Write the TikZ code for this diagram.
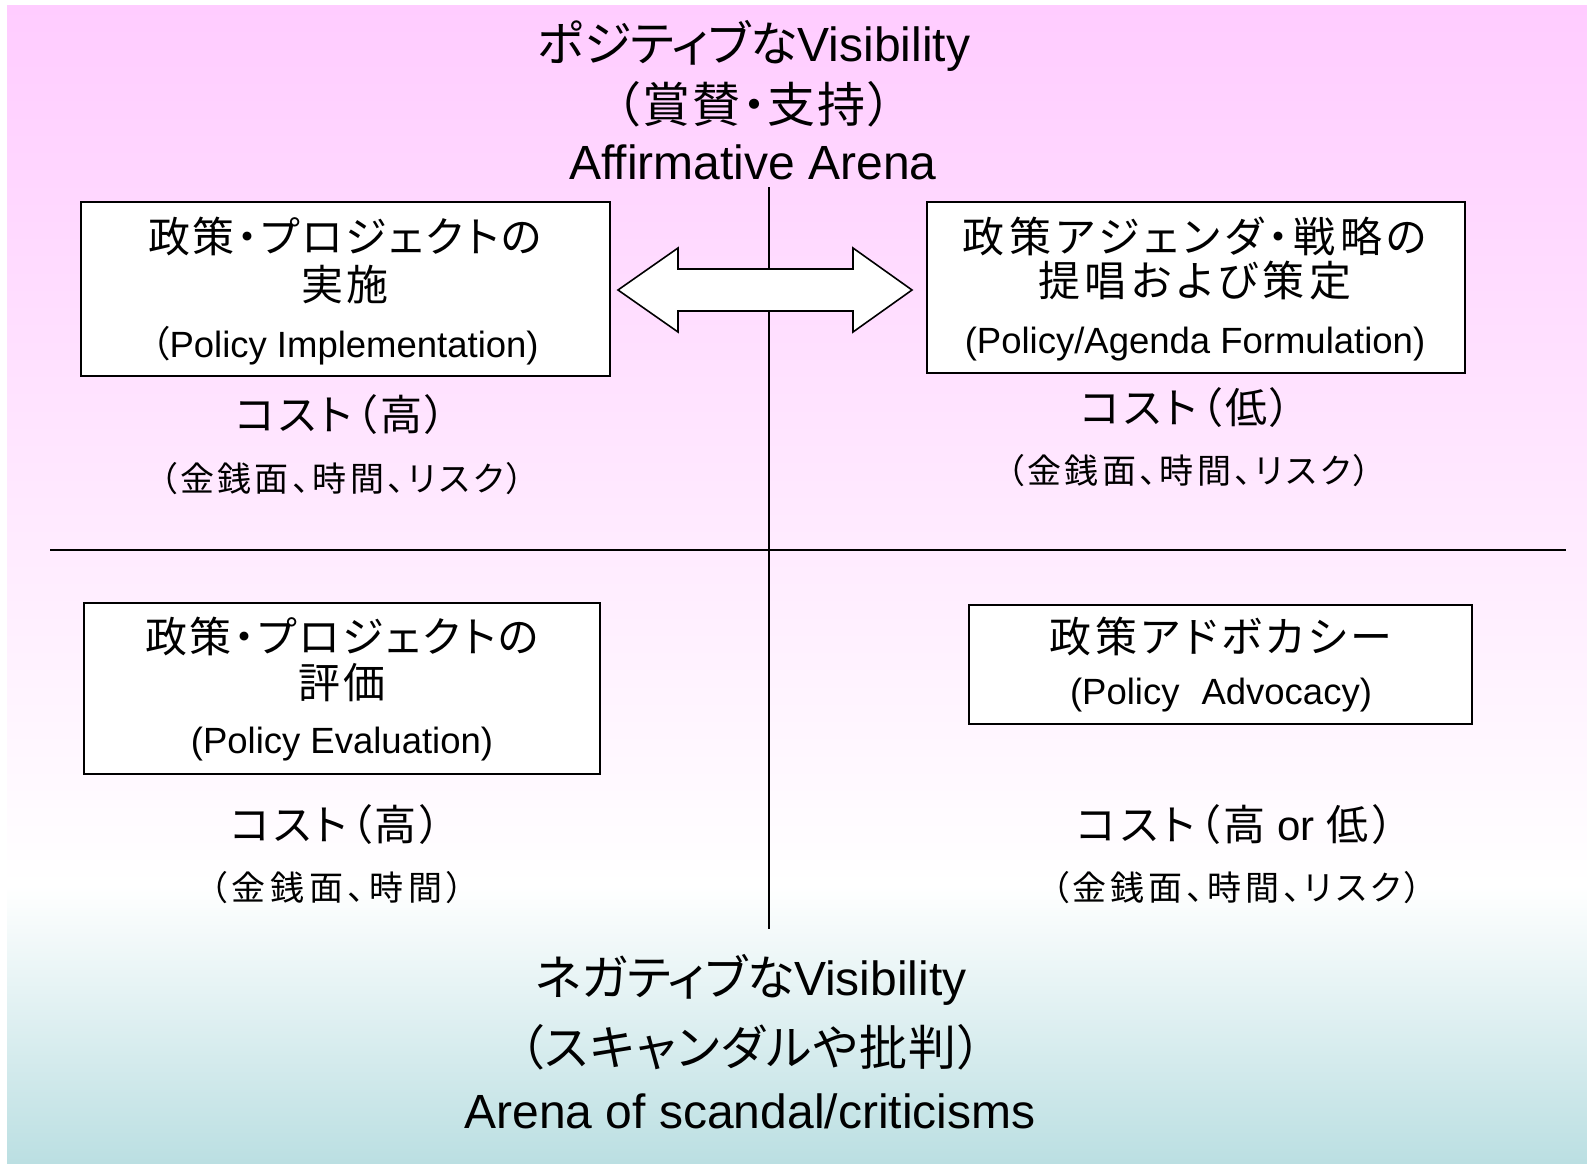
\documentclass[tikz,border=0pt]{standalone}
\usepackage{fontspec}
\setmainfont{Liberation Sans}
\newfontfamily\jp[RawFeature=+palt]{Noto Sans CJK JP}
\newcommand\J[1]{{\jp #1}}
\newcommand\JL[2]{{\jp\addfontfeatures{LetterSpace=#1}#2}}
\definecolor{bgpink}{RGB}{255,204,255}
\definecolor{bgteal}{RGB}{187,223,226}
\pgfdeclareverticalshading{bgshade}{100bp}{color(0bp)=(bgteal); color(25bp)=(bgteal); color(37bp)=(white); color(75bp)=(bgpink); color(100bp)=(bgpink)}
\begin{document}
\begin{tikzpicture}[x=1pt,y=-1pt,
  big/.style={inner sep=0pt, font=\fontsize{48}{56}\selectfont},
  boxtitle/.style={inner sep=0pt, font=\fontsize{42}{48}\selectfont},
  boxeng/.style={inner sep=0pt, font=\fontsize{36.5}{42}\selectfont},
  cost/.style={inner sep=0pt, font=\fontsize{42}{48}\selectfont},
  costsub/.style={inner sep=0pt, font=\fontsize{34}{40}\selectfont},
  qbox/.style={draw=black, line width=2pt, fill=white, inner sep=0pt},
  axisline/.style={draw=black, line width=2pt}
]
\useasboundingbox (0,0) rectangle (1587,1164);
\fill[white] (0,0) rectangle (1587,1164);
\shade[shading=bgshade] (7,6) rectangle (1587,1163);

% axes
\coordinate (vtop) at (769,187);
\coordinate (vbot) at (769,929);
\coordinate (hl) at (50,550);
\coordinate (hr) at (1566,550);
\draw[axisline] (vtop) -- (vbot);
\draw[axisline] (hl) -- (hr);

% double arrow
\draw[line width=1.6pt, fill=white, line join=miter]
  (618,290) -- (678,248) -- (678,269) -- (853,269) -- (853,248) -- (912,290)
  -- (853,332) -- (853,311) -- (678,311) -- (678,332) -- cycle;

% top titles
\node[big] (t1) at (754,46) {\J{ポジティブな}Visibility};
\node[big] (t2) at (754,104) {\JL{4}{（賞賛・支持）}};
\node[big] (t3) at (753,162) {Affirmative Arena};

% box 1
\node[qbox, minimum width=529pt, minimum height=174pt] (b1) at (345.5,289) {};
\node[boxtitle] (b1a) at (345,236) {\JL{6}{政策・プロジェクトの}};
\node[boxtitle] (b1b) at (345,285) {\JL{6}{実施}};
\node[boxeng] (b1c) at (345,346) {\J{（}Policy Implementation)};
\node[cost] (c1) at (341,415) {\JL{8}{コスト（高）}};
\node[costsub] (s1) at (342,479) {\JL{10}{（金銭面、時間、リスク）}};

% box 2
\node[qbox, minimum width=538pt, minimum height=171pt] (b2) at (1196,287.5) {};
\node[boxtitle] (b2a) at (1195,236) {\JL{11}{政策アジェンダ・戦略の}};
\node[boxtitle] (b2b) at (1195,281) {\JL{11}{提唱および策定}};
\node[boxeng] (b2c) at (1195,344) {(Policy/Agenda Formulation)};
\node[cost] (c2) at (1186,408) {\JL{8}{コスト（低）}};
\node[costsub] (s2) at (1189,471) {\JL{10}{（金銭面、時間、リスク）}};

% box 3
\node[qbox, minimum width=516pt, minimum height=171pt] (b3) at (342,688.5) {};
\node[boxtitle] (b3a) at (342,636) {\JL{6}{政策・プロジェクトの}};
\node[boxtitle] (b3b) at (342,683) {\JL{6}{評価}};
\node[boxeng] (b3c) at (342,744) {(Policy Evaluation)};
\node[cost] (c3) at (336,825) {\JL{8}{コスト（高）}};
\node[costsub] (s3) at (337,888) {\JL{14}{（金銭面、時間）}};

% box 4
\node[qbox, minimum width=503pt, minimum height=119pt] (b4) at (1220.5,664.5) {};
\node[boxtitle] (b4a) at (1221,636) {\JL{9}{政策アドボカシー}};
\node[boxeng] (b4b) at (1221,695) {(Policy\hspace{22pt}Advocacy)};
\node[cost] (c4) at (1235,825) {\JL{10}{コスト（高} or \JL{10}{低）}};
\node[costsub] (s4) at (1237,888) {\JL{11.5}{（金銭面、時間、リスク）}};

% bottom titles
\node[big] (u1) at (751,980) {\J{ネガティブな}Visibility};
\node[big] (u2) at (751,1047) {\JL{3}{（スキャンダルや批判）}};
\node[big] (u3) at (750,1111) {Arena of scandal/criticisms};
\end{tikzpicture}
\end{document}
